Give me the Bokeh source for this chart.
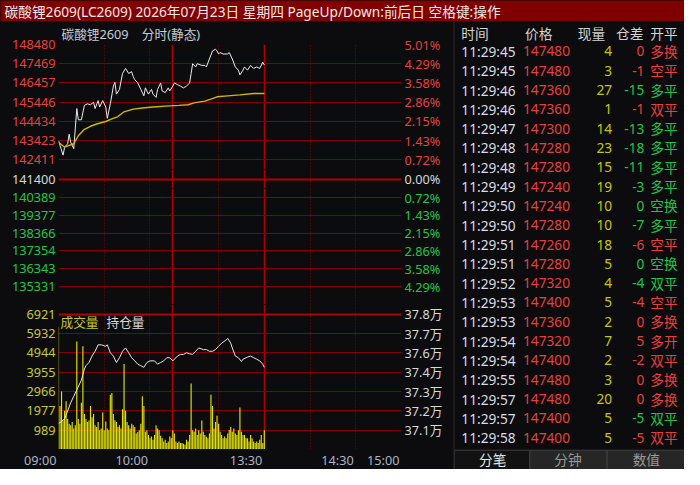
from bokeh.plotting import figure
from bokeh.models import (Range1d, LinearAxis, FixedTicker, Label, ColumnDataSource, Grid)
from bokeh.layouts import column, row
from bokeh.embed import file_html
from bokeh.resources import INLINE
from bokeh.core.properties import value

# ---------------- data ----------------
TITLE = "碳酸锂2609(LC2609) 2026年07月23日 星期四 PageUp/Down:前后日 空格键:操作"
SUBTITLE = "碳酸锂2609\u00a0\u00a0\u00a0\u00a0分时(静态)"
PREV_SETTLE = 141400
PREV_PCT = "0.00%"
PRICE_TICKS_UP = [148480, 147469, 146457, 145446, 144434, 143423, 142411]
PRICE_TICKS_DOWN = [140389, 139377, 138366, 137354, 136343, 135331]
PCT_UP = ["5.01%", "4.29%", "3.58%", "2.86%", "2.15%", "1.43%", "0.72%"]
PCT_DOWN = ["0.72%", "1.43%", "2.15%", "2.86%", "3.58%", "4.29%"]
VOL_TICKS = [6921, 5932, 4944, 3955, 2966, 1977, 989]
OI_LABELS = ["37.8万", "37.7万", "37.6万", "37.4万", "37.3万", "37.2万", "37.1万"]
OI_BASE = 369750
OI_STEP = 1167
# trading minutes counted from 09:00 (sessions 09:00-10:15, 10:30-11:30, 13:30-15:00)
TIME_TICKS = [0, 60, 135, 195, 225]
TIME_LABELS = ["09:00", "10:00", "13:30", "14:30", "15:00"]
SESSION_BREAKS = [0, 75, 135, 225]
HALF_HOURS = [30, 60, 105, 165, 195]

PRICE_MIN = [0, 1, 3, 4, 6, 7, 8, 10, 12, 13, 15, 17, 19, 21, 23, 24, 26, 27, 29, 31,
             32, 34, 36, 37, 38, 40, 42, 44, 46, 48, 49, 50, 52, 54, 56, 57, 59, 61, 62, 64,
             65, 67, 68, 70, 72, 73, 75, 76, 78, 80, 82, 84, 86, 87, 88, 90, 91, 94, 96, 97,
             99, 101, 103, 104, 105, 106, 108, 111, 112, 114, 116, 118, 119, 121, 122, 124, 126, 128, 130, 132,
             134, 135]
PRICE_VAL = [143420, 143170, 142660, 143080, 143260, 143760, 143340, 143000, 145110, 144520,
             144520, 145280, 145360, 145310, 145440, 145110, 145530, 145190, 145530, 145190,
             144600, 145360, 146290, 146490, 145870, 146120, 146960, 147220, 146960, 147050,
             146790, 146630, 146460, 146120, 145780, 146200, 145870, 146120, 145870, 145700,
             146120, 146460, 146040, 145950, 146200, 146040, 146290, 146460, 146370, 146290,
             146200, 146290, 146460, 146960, 147470, 147300, 147470, 147380, 147380, 147300,
             147720, 148140, 148230, 148140, 147980, 148060, 147980, 147980, 148060, 147720,
             147300, 147130, 146880, 147130, 147300, 147130, 147380, 147220, 147300, 147220,
             147550, 147400]

AVG_MIN = [0, 4, 10, 13, 17, 21, 25, 31, 35, 39, 43, 49, 55, 62, 70, 79, 85, 89, 96, 100,
           104, 111, 119, 128, 135]
AVG_VAL = [143340, 143080, 143260, 143680, 144020, 144180, 144300, 144430, 144570, 144690,
           144940, 145080, 145140, 145190, 145240, 145280, 145310, 145410, 145500, 145610,
           145730, 145780, 145830, 145900, 145900]

VOLUME = [6262, 2225, 2966, 1483, 1978, 2472, 1566, 1320, 1236, 1401,
          1071, 1236, 5521, 1566, 1318, 2390, 5274, 1813, 1566, 1401,
          1483, 2225, 1650, 1813, 1236, 1154, 1401, 989, 1071, 1895,
          989, 1434, 1071, 989, 2801, 2884, 1813, 1500, 1401, 1154,
          1236, 1071, 2060, 4367, 1978, 1401, 1236, 1071, 1318, 1236,
          1154, 824, 900, 989, 1318, 2719, 2225, 906, 989, 742,
          577, 659, 494, 742, 1236, 1071, 989, 700, 577, 412,
          494, 330, 412, 659, 577, 989, 824, 412, 330, 412,
          330, 330, 290, 247, 494, 412, 742, 3378, 989, 906,
          1071, 742, 989, 824, 1483, 906, 742, 650, 577, 824,
          2801, 2225, 1071, 1401, 1730, 1318, 906, 742, 577, 659,
          577, 824, 1000, 1154, 906, 1071, 824, 742, 989, 2142,
          906, 742, 742, 577, 577, 412, 742, 560, 412, 330,
          412, 330, 494, 742, 330, 989]

OI_MIN = [0, 4, 6, 8, 10, 12, 15, 17, 18, 20, 22, 24, 26, 28, 31, 32, 34, 36, 38, 40,
          42, 44, 46, 48, 50, 52, 54, 56, 58, 60, 63, 65, 67, 69, 71, 73, 75, 78, 80, 82,
          84, 86, 88, 90, 92, 95, 97, 99, 101, 103, 105, 107, 110, 111, 113, 114, 116, 118, 120, 121,
          124, 126, 128, 130, 132, 134, 135]
OI_VAL = [371310, 371600, 372080, 372570, 372960, 373350, 373930, 374610, 374810, 375000,
          375390, 375680, 376070, 376070, 375980, 376070, 375590, 375390, 375000, 375290,
          375680, 375880, 375590, 375290, 375100, 374900, 374810, 374710, 375000, 375100,
          375100, 374900, 375000, 375100, 375290, 375290, 375100, 375390, 375490, 375490,
          375590, 375530, 375490, 375680, 375880, 375780, 375780, 375680, 375680, 375780,
          375980, 376170, 376360, 376460, 376170, 375880, 375390, 375290, 375060, 375200,
          375330, 375390, 375290, 375200, 375100, 374900, 374710]

TABLE_HEAD = ["时间", "价格", "现量", "仓差", "开平"]
TICK_TIME = ["11:29:45", "11:29:45", "11:29:46", "11:29:46", "11:29:47", "11:29:48", "11:29:48",
             "11:29:49", "11:29:50", "11:29:50", "11:29:51", "11:29:51", "11:29:52", "11:29:53",
             "11:29:53", "11:29:54", "11:29:54", "11:29:55", "11:29:57", "11:29:57", "11:29:58"]
TICK_PRICE = [147480, 147480, 147360, 147360, 147300, 147280, 147280, 147240, 147240, 147280, 147260,
              147280, 147320, 147400, 147360, 147320, 147400, 147480, 147480, 147400, 147400]
TICK_VOL = [4, 3, 27, 1, 14, 23, 15, 19, 10, 10, 18, 5, 4, 5, 2, 7, 2, 3, 20, 5, 5]
TICK_OI_CHG = [0, -1, -15, -1, -13, -18, -11, -3, 0, -7, -6, 0, -4, -4, 0, 5, -2, 0, 0, -5, -5]
TICK_TYPE = ["多换", "空平", "多平", "双平", "多平", "多平", "多平", "多平", "空换", "多平", "空平",
             "空换", "双平", "空平", "多换", "多开", "双平", "多换", "多换", "双平", "双平"]
TICK_SIDE = ["B", "B", "S", "B", "S", "S", "S", "S", "S", "S", "B",
             "S", "S", "B", "B", "B", "B", "B", "B", "S", "B"]
TABS = ["分笔", "分钟", "数值"]

# ---------------- style ----------------
FONT = "Noto Sans, Noto Sans CJK SC"
BG = "#0c0c0f"
GRID = "#860000"
GRID_HI = "#b00000"
RED = "#e8403c"
GREEN = "#1fc64a"
WHITE = "#d8d8d8"
YELLOW = "#c8c830"
TIMECOL = "#aab4c6"
AXFS = "12.7px"
TBFS = "13.7px"

STEP = (PRICE_TICKS_UP[0] - PREV_SETTLE) / 7
VSTEP = VOL_TICKS[0] / 7
X_RANGE = Range1d(0, 225)
LEFT_W = 453
BL, BR = 58, 52


def panel(height, top, bottom, y_range, vlines=True):
    p = figure(width=LEFT_W, height=height, x_range=X_RANGE, y_range=y_range,
               x_axis_type=None, y_axis_type=None, toolbar_location=None,
               output_backend="svg", background_fill_color=BG, border_fill_color=BG,
               outline_line_color=None, min_border_left=BL, min_border_right=BR,
               min_border_top=top, min_border_bottom=bottom)
    if vlines:
        p.add_layout(Grid(dimension=0, ticker=FixedTicker(ticks=SESSION_BREAKS),
                          grid_line_color=GRID_HI, grid_line_width=1.5))
        p.add_layout(Grid(dimension=0, ticker=FixedTicker(ticks=HALF_HOURS),
                          grid_line_color=GRID, grid_line_width=1, grid_line_dash="1 2"))
    return p


def hgrid(p, ticks, color=GRID, width=1.0, range_name="default"):
    p.add_layout(Grid(dimension=1, ticker=FixedTicker(ticks=ticks), y_range_name=range_name,
                      grid_line_color=color, grid_line_width=width))


def yaxis(p, side, ticks, labels, color, range_name="default"):
    labels = labels if labels else [str(t) for t in ticks]
    over = {t: l for t, l in zip(ticks, labels)}
    ax = LinearAxis(y_range_name=range_name, ticker=FixedTicker(ticks=ticks),
                    major_label_overrides=over, axis_line_color=None,
                    major_tick_line_color=None, minor_tick_line_color=None,
                    major_tick_in=0, major_tick_out=0,
                    major_label_text_color=color, major_label_text_font=FONT,
                    major_label_text_font_size=AXFS, major_label_standoff=3)
    p.add_layout(ax, side)


# title bar
tf = figure(width=684, height=21, x_range=Range1d(0, 1), y_range=Range1d(0, 1),
            x_axis_type=None, y_axis_type=None, toolbar_location=None, output_backend="svg",
            background_fill_color="#800000", border_fill_color="#800000",
            outline_line_color=None, min_border=0, title=None)
tf.add_layout(Label(x=0, y=0.5, x_offset=4, text=TITLE, text_baseline="middle",
                    text_color="#f2e8e8", text_font=FONT, text_font_size=TBFS))

# upper price panel (above the previous settlement)
up = panel(148, 22, 0, Range1d(PREV_SETTLE + 0.5 * STEP, PRICE_TICKS_UP[0]))
up.title.text = SUBTITLE
up.title.align = "left"
up.title.offset = 3
up.title.standoff = 3
up.title.text_color = "#c4ccd8"
up.title.text_font = FONT
up.title.text_font_size = AXFS
up.title.text_font_style = "normal"
hgrid(up, PRICE_TICKS_UP)
up.line(PRICE_MIN, PRICE_VAL, line_color="#ececec", line_width=1)
up.line(AVG_MIN, AVG_VAL, line_color="#d2b800", line_width=1.4)
yaxis(up, "left", PRICE_TICKS_UP, None, RED)
yaxis(up, "right", PRICE_TICKS_UP, PCT_UP, RED)

# middle strip: previous settlement line
md = panel(19, 0, 0, Range1d(PREV_SETTLE - 0.5 * STEP, PREV_SETTLE + 0.5 * STEP))
hgrid(md, [PREV_SETTLE], GRID_HI, 2)
yaxis(md, "left", [PREV_SETTLE], None, WHITE)
yaxis(md, "right", [PREV_SETTLE], [PREV_PCT], WHITE)

# lower price panel
dn = panel(116, 0, 0, Range1d(PREV_SETTLE - 7 * STEP, PREV_SETTLE - 0.5 * STEP))
hgrid(dn, PRICE_TICKS_DOWN)
yaxis(dn, "left", PRICE_TICKS_DOWN, None, GREEN)
yaxis(dn, "right", PRICE_TICKS_DOWN, PCT_DOWN, GREEN)

# volume / open interest panel
vp = panel(145, 0, 0, Range1d(0, VOL_TICKS[0] * 7.5 / 7))
vp.extra_y_ranges = {"oi": Range1d(OI_BASE, OI_BASE + 7.5 * OI_STEP)}
hgrid(vp, VOL_TICKS[1:])
hgrid(vp, [VOL_TICKS[0], 0], GRID_HI, 2)
vp.vbar(x=list(range(len(VOLUME))), top=VOLUME, width=0.75, bottom=0,
        fill_color="#e2e200", line_color=None)
vp.line(OI_MIN, OI_VAL, y_range_name="oi", line_color="#e6e6e6", line_width=1)
yaxis(vp, "left", VOL_TICKS, None, YELLOW)
oi_ticks = [OI_BASE + k * OI_STEP for k in range(7, 0, -1)]
yaxis(vp, "right", oi_ticks, OI_LABELS, WHITE, "oi")
vp.add_layout(Label(x=0, y=VOL_TICKS[0] - 0.4 * VSTEP, x_offset=2, text="成交量",
                    text_baseline="middle", text_color=YELLOW, text_font=FONT,
                    text_font_size=AXFS))
vp.add_layout(Label(x=0, y=VOL_TICKS[0] - 0.4 * VSTEP, x_offset=48, text="持仓量",
                    text_baseline="middle", text_color=WHITE, text_font=FONT,
                    text_font_size=AXFS))

# time label strip (labels are right-aligned on their times)
ts = panel(20, 0, 0, Range1d(0, 1), vlines=False)
ts.add_layout(Grid(dimension=0, ticker=FixedTicker(ticks=[SESSION_BREAKS[-1]]),
                   grid_line_color=GRID_HI, grid_line_width=1.5))
ts.add_layout(LinearAxis(ticker=FixedTicker(ticks=[0.5]),
                         major_label_overrides={0.5: TIME_LABELS[0]},
                         axis_line_color=None, major_tick_line_color=None,
                         minor_tick_line_color=None, major_tick_in=0, major_tick_out=0,
                         major_label_text_color=TIMECOL, major_label_text_font=FONT,
                         major_label_text_font_size=AXFS, major_label_standoff=2), "left")
ts.text(x=TIME_TICKS[1:], y=[0.5] * (len(TIME_TICKS) - 1), text=TIME_LABELS[1:],
        x_offset=-2, text_align="right", text_baseline="middle", text_color=TIMECOL,
        text_font=value(FONT), text_font_size=AXFS)

# tick table
tb = figure(width=684 - LEFT_W, height=448, x_range=Range1d(0, 235),
            y_range=Range1d(21.65, -1.55), x_axis_type=None, y_axis_type=None,
            toolbar_location=None, output_backend="svg", background_fill_color=BG,
            border_fill_color="#4a4a4a", outline_line_color=None, min_border=0,
            min_border_left=1)
rows = list(range(len(TICK_TIME)))
side_col = [RED if s == "B" else GREEN for s in TICK_SIDE]
price_col = [RED if v > PREV_SETTLE else GREEN for v in TICK_PRICE]
src = ColumnDataSource(dict(
    y=rows, t=TICK_TIME, p=[str(v) for v in TICK_PRICE], v=[str(v) for v in TICK_VOL],
    c=[str(v) for v in TICK_OI_CHG], k=TICK_TYPE, sc=side_col, pc=price_col))
common = dict(text_font=value(FONT), text_font_size=TBFS, text_baseline="middle")
tb.text(x=7, y="y", text="t", source=src, text_color="#d8dce6", text_align="left", **common)
tb.text(x=70, y="y", text="p", source=src, text_color="pc", text_align="left", **common)
tb.text(x=161, y="y", text="v", source=src, text_color="#c8c800", text_align="right", **common)
tb.text(x=194, y="y", text="c", source=src, text_color="sc", text_align="right", **common)
tb.text(x=200, y="y", text="k", source=src, text_color="sc", text_align="left", **common)
tb.text(x=[7, 72, 126, 165, 200], y=[-0.95] * 5, text=TABLE_HEAD, text_color="#d4d4d4",
        text_align="left", **common)
tb.quad(left=[0, 77, 156], right=[77, 156, 235], top=[20.65] * 3, bottom=[21.65] * 3,
        fill_color=["#121212", "#262626", "#262626"], line_color="#404040", line_width=1)
tb.text(x=[39, 116, 196], y=[21.15] * 3, text=TABS,
        text_color=["#e6e6e6", "#9a9a9a", "#9a9a9a"], text_align="center", **common)

left = column(up, md, dn, vp, ts, spacing=0, styles={"background-color": BG})
layout = column(tf, row(left, tb, spacing=0, styles={"background-color": BG}),
                spacing=0, styles={"background-color": BG})
open("out.html", "w").write(file_html(layout, INLINE))
